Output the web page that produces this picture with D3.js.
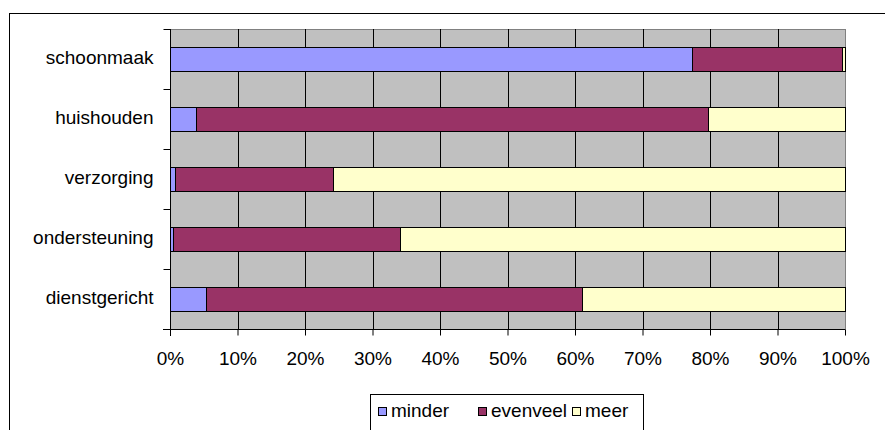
<!DOCTYPE html>
<html>
<head>
<meta charset="utf-8">
<script src="https://cdn.jsdelivr.net/npm/d3@7"></script>
<style>
  body { margin: 0; background: #fff; }
  text { font-family: Arial, "Liberation Sans", sans-serif; fill: #000; }
</style>
</head>
<body>
<div id="chart"></div>
<script>
// categories top to bottom
var categories = ["schoonmaak", "huishouden", "verzorging", "ondersteuning", "dienstgericht"];
var seriesNames = ["minder", "evenveel", "meer"];
var seriesColors = ["#9999ff", "#993366", "#ffffcc"];
// shares in percent, per category
var minder   = [77.4, 3.8, 0.8, 0.4, 5.4];
var evenveel = [22.2, 75.9, 23.3, 33.6, 55.6];
var meer     = [0.4, 20.3, 75.9, 66.0, 39.0];
var tickValues = [0, 10, 20, 30, 40, 50, 60, 70, 80, 90, 100];

var width = 885, height = 430;
var plot = {left: 170, top: 29, right: 845, bottom: 329};
var fontSize = 19;

var svg = d3.select("#chart").append("svg")
  .attr("width", width)
  .attr("height", height);

// outer chart border (runs off right and bottom)
svg.append("rect")
  .attr("x", 9.5).attr("y", 13.5)
  .attr("width", 900).attr("height", 450)
  .attr("fill", "#fff").attr("stroke", "#000");

var x = d3.scaleLinear().domain([0, 100]).range([plot.left, plot.right]);
var y = d3.scaleBand().domain(categories)
  .range([plot.top, plot.bottom])
  .paddingInner(0.6).paddingOuter(0.3);

// plot background
svg.append("rect")
  .attr("x", plot.left + 0.5).attr("y", plot.top + 0.5)
  .attr("width", plot.right - plot.left).attr("height", plot.bottom - plot.top)
  .attr("fill", "#c0c0c0").attr("stroke", "#808080");

// vertical gridlines
svg.append("g")
  .selectAll("line")
  .data(tickValues.slice(1, -1)).enter()
  .append("line")
  .attr("x1", d => Math.round(x(d)) + 0.5).attr("x2", d => Math.round(x(d)) + 0.5)
  .attr("y1", plot.top).attr("y2", plot.bottom)
  .attr("stroke", "#000");

// stack data
var rows = categories.map(function(c, i) {
  return {cat: c, minder: minder[i], evenveel: evenveel[i], meer: meer[i]};
});
var stacked = d3.stack().keys(seriesNames)(rows);

svg.append("g")
  .selectAll("g")
  .data(stacked).enter()
  .append("g")
  .attr("fill", (d, i) => seriesColors[i])
  .selectAll("rect")
  .data(d => d).enter()
  .append("rect")
  .attr("x", d => Math.round(x(d[0])) + 0.5)
  .attr("y", d => Math.round(y(d.data.cat)) + 0.5)
  .attr("width", d => Math.max(0, Math.round(x(d[1])) - Math.round(x(d[0]))))
  .attr("height", y.bandwidth())
  .attr("stroke", "#000");

// x axis
var xAxis = d3.axisBottom(x).tickValues(tickValues)
  .tickFormat(d => d + "%").tickSize(6).tickSizeOuter(0);
var gx = svg.append("g")
  .attr("transform", "translate(0," + (plot.bottom + 0.5) + ")")
  .call(xAxis);
gx.select(".domain").attr("d", "M" + (plot.left - 7) + ",0H" + plot.right);
gx.selectAll("text").attr("font-size", fontSize).attr("font-family", "Arial, 'Liberation Sans', sans-serif")
  .attr("y", 22).attr("dy", "0.71em").attr("fill", "#000");

// y axis: ticks at band boundaries, labels at band centers
var gy = svg.append("g").attr("transform", "translate(" + (plot.left + 0.5) + ",0)");
gy.append("line")
  .attr("x1", 0).attr("x2", 0)
  .attr("y1", plot.top).attr("y2", plot.bottom + 7)
  .attr("stroke", "#000");
var bounds = categories.map(c => y(c) - y.step() * y.paddingInner() / 2)
  .concat([plot.bottom]);
bounds[0] = plot.top;
gy.selectAll(".yt")
  .data(bounds).enter()
  .append("line")
  .attr("class", "yt")
  .attr("x1", -7).attr("x2", 0)
  .attr("y1", d => Math.round(d) + 0.5).attr("y2", d => Math.round(d) + 0.5)
  .attr("stroke", "#000");
gy.selectAll(".yl")
  .data(categories).enter()
  .append("text")
  .attr("class", "yl")
  .attr("x", -17)
  .attr("y", d => y(d) + y.bandwidth() / 2)
  .attr("dy", "0.27em")
  .attr("text-anchor", "end")
  .attr("font-size", fontSize)
  .text(d => d);

// legend
var legend = svg.append("g");
legend.append("rect")
  .attr("x", 370.5).attr("y", 394.5)
  .attr("width", 273).attr("height", 60)
  .attr("fill", "#fff").attr("stroke", "#000");
var legendX = [378, 478, 572];
var items = legend.selectAll(".li")
  .data(seriesNames).enter()
  .append("g")
  .attr("class", "li")
  .attr("transform", (d, i) => "translate(" + legendX[i] + ",0)");
items.append("rect")
  .attr("x", 0.5).attr("y", 407.5)
  .attr("width", 8).attr("height", 8)
  .attr("fill", (d, i) => seriesColors[i])
  .attr("stroke", "#000");
items.append("text")
  .attr("x", 13).attr("y", 417)
  .attr("font-size", fontSize)
  .text(d => d);
</script>
</body>
</html>
